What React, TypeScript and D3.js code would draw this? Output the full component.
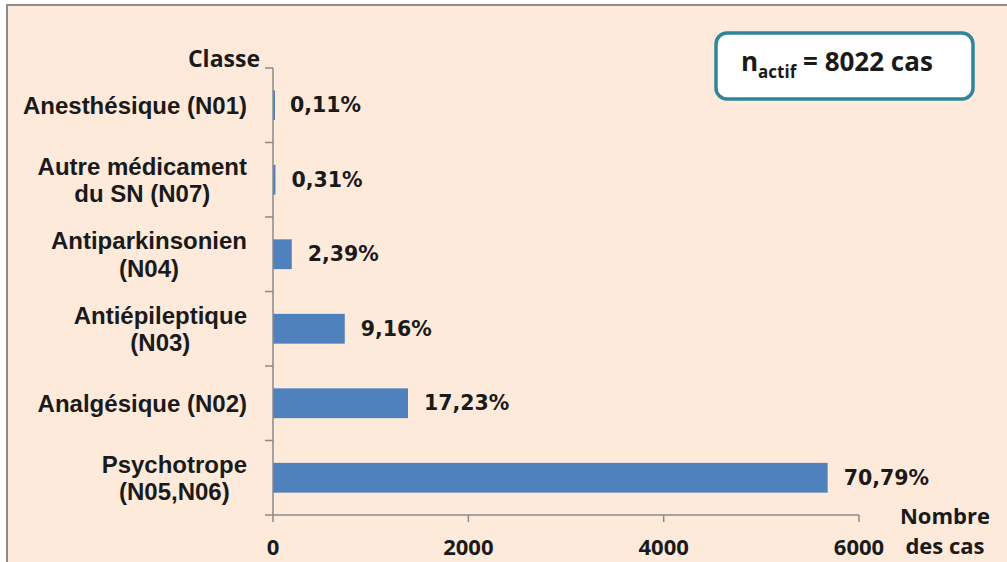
import React, { useEffect, useRef } from "react";
import * as d3 from "d3";

const categories = [
  "Anesthésique (N01)",
  "Autre médicament du SN (N07)",
  "Antiparkinsonien (N04)",
  "Antiépileptique (N03)",
  "Analgésique (N02)",
  "Psychotrope (N05,N06)",
];
const categoryLines = [
  ["Anesthésique (N01)"],
  ["Autre médicament", "du SN (N07)"],
  ["Antiparkinsonien", "(N04)"],
  ["Antiépileptique", "(N03)"],
  ["Analgésique (N02)"],
  ["Psychotrope", "(N05,N06)"],
];
const counts = [9, 25, 192, 735, 1382, 5679];
const percentLabels = ["0,11%", "0,31%", "2,39%", "9,16%", "17,23%", "70,79%"];
const xTicks = [0, 2000, 4000, 6000];
const xTitle = ["Nombre", "des cas"];
const yTitle = "Classe";
const totalLabel = "8022 cas";

const W = 1007;
const H = 562;

export default function App() {
  const ref = useRef<SVGSVGElement | null>(null);

  useEffect(() => {
    const svg = d3.select(ref.current);
    svg.selectAll("*").remove();

    const bg = "#FDEADA";
    const axisColor = "#8A8A8A";
    const barColor = "#4F81BD";
    const catFont = "'Open Sans', Lato, 'DejaVu Sans', sans-serif";
    const lblFont = "'Liberation Sans', Arial, sans-serif";
    const pctFont = "'DejaVu Sans', Verdana, sans-serif";
    const ink = "#1a1a1a";

    // frame
    svg.append("rect").attr("x", 0).attr("y", 0).attr("width", W).attr("height", H).attr("fill", "#ffffff");
    svg.append("rect")
      .attr("x", 7).attr("y", 5).attr("width", W + 20).attr("height", H + 20)
      .attr("fill", bg).attr("stroke", "#8C8C8C").attr("stroke-width", 2);

    const x = d3.scaleLinear().domain([0, 6000]).range([273, 859]);
    const y = d3.scaleBand<string>().domain(categories).range([68, 515]).paddingInner(0.6).paddingOuter(0.3);
    const step = y.step();
    const x0 = x(0);
    const yTop = 68, yBot = 515;

    // bars
    svg.append("g").selectAll("rect").data(categories).join("rect")
      .attr("x", x0)
      .attr("y", (d) => y(d)!)
      .attr("width", (_d, i) => Math.max(2, x(counts[i]) - x0))
      .attr("height", y.bandwidth())
      .attr("fill", barColor);

    // y axis
    const ax = svg.append("g").attr("stroke", axisColor).attr("stroke-width", 1.5);
    ax.append("line").attr("x1", x0).attr("x2", x0).attr("y1", yTop).attr("y2", yBot);
    for (let k = 0; k < categories.length; k++) {
      const yy = yTop + k * step;
      ax.append("line").attr("x1", x0 - 8).attr("x2", x0).attr("y1", yy).attr("y2", yy);
    }
    // x axis
    ax.append("line").attr("x1", x0 - 8).attr("x2", x(6000)).attr("y1", yBot).attr("y2", yBot);
    xTicks.forEach((t) => {
      ax.append("line").attr("x1", x(t)).attr("x2", x(t)).attr("y1", yBot).attr("y2", yBot + 7);
    });

    // x tick labels
    svg.append("g").selectAll("text").data(xTicks).join("text")
      .attr("x", (d) => x(d))
      .attr("y", 555)
      .attr("text-anchor", "middle")
      .attr("font-family", catFont).attr("font-weight", "bold").attr("font-size", 22)
      .attr("fill", ink)
      .text((d) => String(d));

    // x title
    xTitle.forEach((t, i) => {
      svg.append("text").attr("x", 945).attr("y", 524 + i * 30)
        .attr("text-anchor", "middle")
        .attr("font-family", catFont).attr("font-weight", "bold").attr("font-size", 22)
        .attr("fill", ink).text(t);
    });

    // y title
    svg.append("text").attr("x", 260).attr("y", 67)
      .attr("text-anchor", "end")
      .attr("font-family", catFont).attr("font-weight", "bold").attr("font-size", 23)
      .attr("fill", ink).text(yTitle);

    // category labels
    const rightEdge = 247;
    const lineH = 27.5;
    categoryLines.forEach((lines, i) => {
      const cy = y(categories[i])! + y.bandwidth() / 2;
      const g = svg.append("g");
      const texts = lines.map((ln, j) =>
        g.append("text")
          .attr("y", cy + (j - (lines.length - 1) / 2) * lineH + 8.5)
          .attr("text-anchor", "middle")
          .attr("font-family", lblFont).attr("font-weight", "bold").attr("font-size", 24)
          .attr("fill", ink).text(ln)
      );
      const widths = texts.map((t) => (t.node() as SVGTextElement).getComputedTextLength());
      const maxW = Math.max(...widths);
      texts.forEach((t) => t.attr("x", rightEdge - maxW / 2));
    });

    // percent labels
    svg.append("g").selectAll("text").data(categories).join("text")
      .attr("x", (_d, i) => x(counts[i]) + 16)
      .attr("y", (d) => y(d)! + y.bandwidth() / 2 + 7)
      .attr("font-family", pctFont).attr("font-weight", "bold").attr("font-size", 20.5)
      .attr("fill", ink)
      .text((_d, i) => percentLabels[i]);

    // info box
    svg.append("rect").attr("x", 716).attr("y", 33).attr("width", 257).attr("height", 66)
      .attr("rx", 11).attr("fill", "#ffffff").attr("stroke", "#31849B").attr("stroke-width", 3.5);
    const tb = svg.append("text").attr("x", 741).attr("y", 71)
      .attr("font-family", catFont).attr("font-weight", "bold").attr("font-size", 26).attr("fill", ink);
    tb.append("tspan").text("n");
    tb.append("tspan").attr("font-size", 17).attr("dy", 7).text("actif");
    tb.append("tspan").attr("dy", -7).text(" = " + totalLabel);
  }, []);

  return (
    <svg
      ref={ref}
      width={W}
      height={H}
      style={{ position: "absolute", left: 0, top: 0, display: "block" }}
    />
  );
}
